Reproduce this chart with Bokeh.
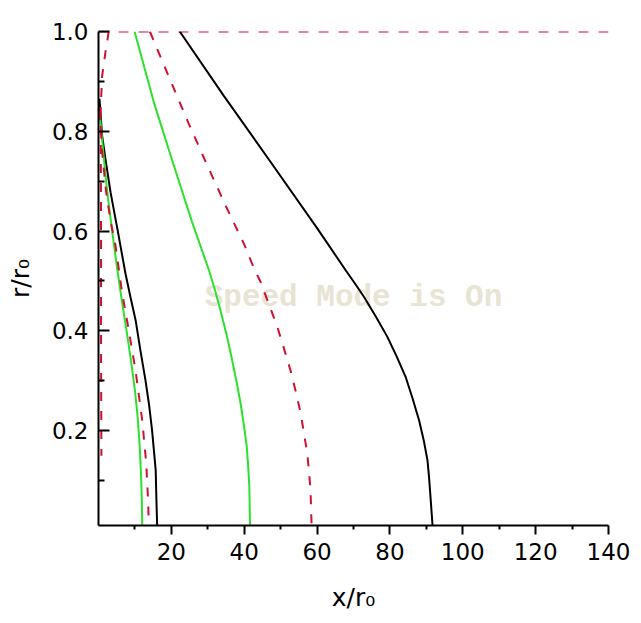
from bokeh.plotting import figure
from bokeh.models import Range1d, FixedTicker, Label, NumeralTickFormatter
from bokeh.embed import file_html
from bokeh.resources import INLINE

# ---- axis ticks ----
x_major = [20, 40, 60, 80, 100, 120, 140]
x_minor = [10, 30, 50, 70, 90, 110, 130]
y_major = [0.2, 0.4, 0.6, 0.8, 1.0]
y_minor = [0.1, 0.3, 0.5, 0.7, 0.9]

# ---- black solid curves ----
black_far_x = [22.3, 34.4, 47.3, 60.1, 67.9, 70.4, 72.9, 76.2, 79.3, 81.9, 84.3, 86.2,
               88.0, 89.3, 90.3, 90.7, 91.0, 91.7]
black_far_r = [1.0, 0.871, 0.738, 0.605, 0.521, 0.495, 0.468, 0.428, 0.388, 0.348, 0.308, 0.265,
               0.221, 0.18, 0.141, 0.11, 0.081, 0.01]
black_near_x = [0.27, 1.0, 1.9, 3.3, 5.3, 7.4, 8.8, 10.2, 11.5, 12.9, 13.9, 14.7, 15.7, 15.9, 16.1]
black_near_r = [0.865, 0.791, 0.745, 0.678, 0.6, 0.515, 0.467, 0.421, 0.361, 0.301, 0.251, 0.201,
                0.121, 0.061, 0.01]

# ---- green solid curves ----
green_far_x = [9.9, 15.2, 20.7, 25.7, 30.4, 32.0, 33.5, 35.2, 36.7, 37.9, 39.0, 39.9, 40.7,
               41.1, 41.4, 41.6]
green_far_r = [1.0, 0.858, 0.731, 0.618, 0.52, 0.481, 0.441, 0.391, 0.341, 0.298, 0.255, 0.211,
               0.168, 0.128, 0.088, 0.01]
green_near_x = [0.4, 1.4, 2.4, 3.8, 5.2, 6.6, 7.9, 9.1, 10.0, 10.7, 11.3, 11.7, 11.9, 12.0]
green_near_r = [0.831, 0.751, 0.678, 0.597, 0.521, 0.451, 0.391, 0.331, 0.281, 0.231, 0.171,
                0.107, 0.061, 0.01]

# ---- red dashed curves ----
red_far_x = [14.1, 19.8, 24.8, 29.9, 34.9, 39.9, 42.7, 44.5, 46.8, 49.1, 50.9, 52.7, 54.2,
             55.5, 56.4, 57.3, 57.8, 58.2, 58.5]
red_far_r = [1.0, 0.901, 0.815, 0.731, 0.651, 0.575, 0.525, 0.498, 0.453, 0.408, 0.365, 0.321,
             0.277, 0.235, 0.195, 0.155, 0.117, 0.081, 0.01]
red_mid_x = [0.36, 0.96, 2.06, 3.29, 4.67, 6.51, 8.32, 10.16, 12.0, 13.1, 13.65, 13.8]
red_mid_r = [0.841, 0.761, 0.681, 0.621, 0.571, 0.475, 0.401, 0.321, 0.221, 0.135, 0.055, 0.01]
red_wall_x = [2.8, 1.9, 1.0, 0.6, 0.7, 0.7, 0.8]
red_wall_r = [1.0, 0.958, 0.911, 0.845, 0.6, 0.35, 0.15]
red_top_x = [0, 140]
red_top_r = [1.0, 1.0]

RED = "#cc1133"
GREEN = "#2ee02e"

p = figure(width=633, height=615,
           x_range=Range1d(0, 140), y_range=Range1d(0.01, 1.0),
           output_backend="svg", toolbar_location=None,
           min_border_left=98, min_border_right=25,
           min_border_top=31, min_border_bottom=90)
p.outline_line_color = None
p.grid.visible = False
p.background_fill_color = "white"
p.border_fill_color = "white"

p.xaxis.ticker = FixedTicker(ticks=x_major, minor_ticks=x_minor)
p.yaxis.ticker = FixedTicker(ticks=y_major, minor_ticks=y_minor)
p.xaxis.formatter = NumeralTickFormatter(format="0")
p.yaxis.formatter = NumeralTickFormatter(format="0.0")

for ax in (p.xaxis[0], p.yaxis[0]):
    ax.axis_line_width = 2
    ax.axis_line_color = "black"
    ax.major_tick_line_width = 2
    ax.minor_tick_line_width = 2
    ax.major_tick_line_color = "black"
    ax.minor_tick_line_color = "black"
    ax.major_label_text_font = "DejaVu Sans"
    ax.major_label_text_font_size = "23px"
    ax.major_label_text_color = "black"
    ax.axis_label_text_font = "DejaVu Sans"
    ax.axis_label_text_font_size = "25px"
    ax.axis_label_text_font_style = "normal"
    ax.axis_label_text_color = "black"

p.xaxis.axis_label = "x/r\u2080"
p.yaxis.axis_label = "r/r\u2080"

p.xaxis.major_tick_in = 0
p.xaxis.major_tick_out = 9
p.xaxis.minor_tick_in = 0
p.xaxis.minor_tick_out = 4
p.xaxis.major_label_standoff = 8
p.xaxis.axis_label_standoff = 20

p.yaxis.major_tick_in = 11
p.yaxis.major_tick_out = 0
p.yaxis.minor_tick_in = 6
p.yaxis.minor_tick_out = 0
p.yaxis.major_label_standoff = 10
p.yaxis.axis_label_standoff = 14

# watermark (beneath the curves)
p.add_layout(Label(x=255, y=228, x_units="screen", y_units="screen",
                   text="Speed Mode is On", text_align="center",
                   text_baseline="alphabetic", text_font="Liberation Mono",
                   text_font_style="bold", text_font_size="31px",
                   text_color="#e8e4d4", level="underlay"))

# curves
p.line(red_top_x, red_top_r, line_color=RED, line_width=2, line_dash="10 10")
p.line(black_far_x, black_far_r, line_color="black", line_width=2)
p.line(black_near_x, black_near_r, line_color="black", line_width=2)
p.line(green_far_x, green_far_r, line_color=GREEN, line_width=2)
p.line(green_near_x, green_near_r, line_color=GREEN, line_width=2)
p.line(red_far_x, red_far_r, line_color=RED, line_width=2, line_dash="9 10")
p.line(red_mid_x, red_mid_r, line_color=RED, line_width=2, line_dash="9 10")
p.line(red_wall_x, red_wall_r, line_color=RED, line_width=2, line_dash="9 10")

open("out.html", "w").write(file_html(p, INLINE))
